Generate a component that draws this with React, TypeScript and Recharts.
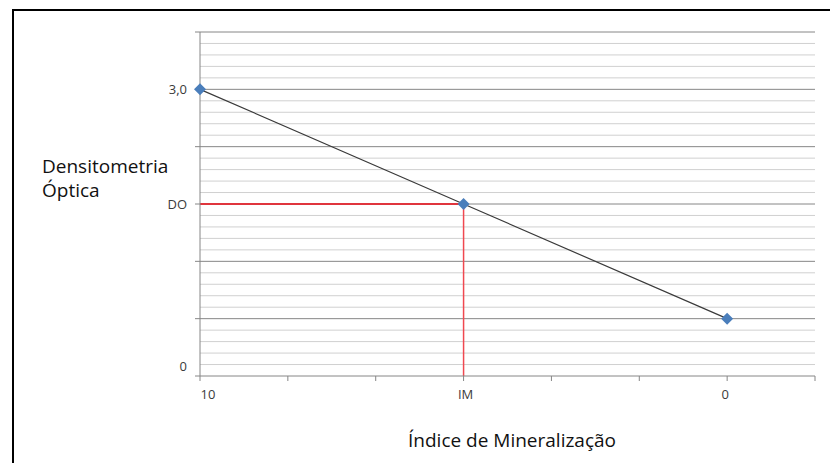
import React from "react";
import { LineChart, Line, XAxis, YAxis, ReferenceLine } from "recharts";

// ---- data ----
const xPositions = [0, 3, 6];
const xLabels = ["10", "IM", "0"];
const densityValues = [5, 3, 1];
const xTickValues = [0, 1, 2, 3, 4, 5, 6, 7];
const yTickValues = [0, 1, 2, 3, 4, 5, 6];
const yLabelValues = [0, 3, 5];
const yLabelTexts = ["0", "DO", "3,0"];
const imX = 3;
const doY = 3;
const majorGrid = [1, 2, 3, 4, 5, 6];
const minorGrid = Array.from({ length: 30 }, (_, i) => (i + 1) / 5).filter(
  (v) => Math.abs(v - Math.round(v)) > 1e-6
);

const yTitleLines = ["Densitometria", "Óptica"];
const xTitle = "Índice de Mineralização";

const data = xPositions.map((x, i) => ({ x, y: densityValues[i] }));

const W = 830;
const H = 463;
const FONT = "'Open Sans', 'Noto Sans', sans-serif";
const LABEL_COLOR = "#3b3b3b";
const AXIS_COLOR = "#868686";

const XTick = (props: any) => {
  const { x, y, payload } = props;
  const i = xPositions.indexOf(payload.value);
  if (i < 0) return null;
  const dxMap: Record<string, number> = { "10": 8, IM: 2, "0": -2 };
  const label = xLabels[i];
  return (
    <text
      x={x + (dxMap[label] || 0)}
      y={y}
      dy="0.71em"
      textAnchor="middle"
      fill={LABEL_COLOR}
      fontSize={13}
      fontFamily={FONT}
    >
      {label}
    </text>
  );
};

const YTick = (props: any) => {
  const { x, y, payload } = props;
  const i = yLabelValues.indexOf(payload.value);
  if (i < 0) return null;
  const label = yLabelTexts[i];
  const extra = label === "0" ? -10 : 0;
  return (
    <text
      x={x}
      y={y + extra}
      dy="0.355em"
      textAnchor="end"
      fill={LABEL_COLOR}
      fontSize={13}
      fontFamily={FONT}
    >
      {label}
    </text>
  );
};

const Diamond = (props: any) => {
  const { cx, cy } = props;
  if (cx == null || cy == null) return null;
  const r = 6;
  return (
    <path
      d={`M${cx},${cy - r} L${cx + r},${cy} L${cx},${cy + r} L${cx - r},${cy} Z`}
      fill="#4a7ebb"
    />
  );
};

export default function App() {
  return (
    <div
      style={{
        position: "absolute",
        left: 0,
        top: 0,
        width: W,
        height: H,
        background: "#fff",
        overflow: "hidden",
      }}
    >
      <div
        style={{
          position: "absolute",
          left: 12,
          top: 9,
          width: W,
          height: H,
          borderTop: "2px solid #000",
          borderLeft: "2px solid #000",
        }}
      />
      <div style={{ position: "absolute", left: 0, top: 0 }}>
        <LineChart
          width={W}
          height={H}
          data={data}
          margin={{ top: 32, right: 15, bottom: 57, left: 140 }}
        >
          <XAxis
            type="number"
            dataKey="x"
            domain={[0, 7]}
            ticks={xTickValues}
            interval={0}
            height={30}
            axisLine={{ stroke: AXIS_COLOR }}
            tickLine={{ stroke: AXIS_COLOR }}
            tickSize={5}
            tickMargin={9}
            tick={<XTick />}
          />
          <YAxis
            type="number"
            domain={[0, 6]}
            ticks={yTickValues}
            interval={0}
            width={60}
            axisLine={{ stroke: AXIS_COLOR }}
            tickLine={{ stroke: AXIS_COLOR }}
            tickSize={5}
            tickMargin={8}
            tick={<YTick />}
          />
          {minorGrid.map((v) => (
            <ReferenceLine key={`mi${v}`} y={v} stroke="#d0d0d0" strokeWidth={1} />
          ))}
          {majorGrid.map((v) => (
            <ReferenceLine key={`ma${v}`} y={v} stroke={AXIS_COLOR} strokeWidth={1} />
          ))}
          <ReferenceLine
            segment={[
              { x: 0, y: doY },
              { x: imX, y: doY },
            ]}
            stroke="#e0353d"
            strokeWidth={2}
          />
          <ReferenceLine
            segment={[
              { x: imX, y: doY },
              { x: imX, y: 0 },
            ]}
            stroke="#f04850"
            strokeWidth={1.5}
          />
          <Line
            dataKey="y"
            stroke="#3a3a3a"
            strokeWidth={1.2}
            dot={<Diamond />}
            activeDot={false}
            isAnimationActive={false}
          />
        </LineChart>
      </div>
      <svg
        width={W}
        height={H}
        style={{ position: "absolute", left: 0, top: 0, pointerEvents: "none" }}
      >
        {yTitleLines.map((t, i) => (
          <text
            key={t}
            x={42}
            y={173 + i * 24}
            fontSize={19}
            fontFamily={FONT}
            fill="#111"
          >
            {t}
          </text>
        ))}
        <text x={408} y={447} fontSize={19} fontFamily={FONT} fill="#111">
          {xTitle}
        </text>
      </svg>
    </div>
  );
}
